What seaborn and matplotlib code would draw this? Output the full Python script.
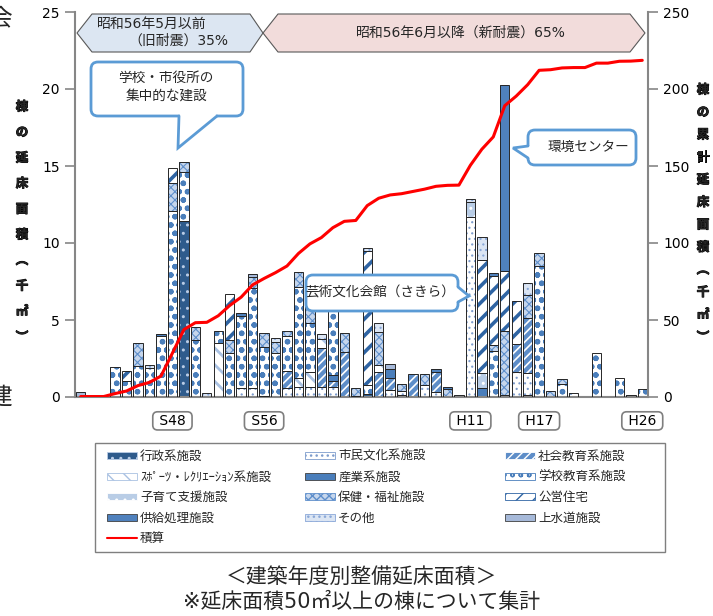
import matplotlib
matplotlib.use("Agg")
import numpy as np
import pandas as pd
import matplotlib.pyplot as plt
import matplotlib.transforms as mtransforms
import matplotlib.patheffects as pe
from matplotlib.patches import Patch, Polygon, FancyBboxPatch, Rectangle
from matplotlib.lines import Line2D
import seaborn as sns

sns.set_theme(style="white")
plt.rcParams['font.family'] = ['DejaVu Sans', 'Noto Sans CJK JP']
plt.rcParams['hatch.linewidth'] = 1.0

# ---- データ (千㎡) : 昭和40年度〜平成26年度 ----
years = ["S%d" % n for n in range(40, 64)] + ["H%d" % n for n in range(1, 27)]
marked = ["S48", "S56", "H11", "H17", "H26"]

gyosei = [0, 0, 0, 0, 0, 0, 0, 0, 0, 11.43,
          0, 0, 0, 0, 0, 0, 0.05, 0, 0, 0,
          0, 0, 0, 0, 0.06, 0.2, 0, 0, 0.1, 0,
          0, 0, 0, 0, 0, 0, 0, 0.13, 0, 0.13,
          0, 0, 0, 0, 0, 0, 0, 0, 0.1, 0]
shimin = [0, 0, 0, 0, 0, 0, 0, 0, 0, 0,
          0, 0, 0, 0, 0.56, 0.56, 0, 0, 0.6, 0.63,
          0.67, 0.63, 0.62, 0, 0, 0, 0, 0.45, 0.3, 0,
          0.78, 0.35, 0, 0, 11.67, 0, 0, 0, 1.6, 1.41,
          0, 0, 0, 0, 0, 0, 0, 0, 0, 0]
shakai = [0, 0, 0, 0, 0, 0, 0, 0, 0, 0,
          0, 0, 0, 0, 0, 0, 0, 0, 1.1, 0,
          0, 2.53, 0.4, 2.94, 0, 0, 1.64, 0.8, 0, 1.47,
          0, 1.3, 0, 0, 0, 0, 0, 0, 1.84, 3.62,
          0, 0, 0, 0, 0, 0, 0, 0, 0, 0]
sports = [0, 0, 0, 0, 0, 0, 0, 0, 0, 0,
          0, 0, 3.53, 0, 0, 0, 0, 0, 0, 0.58,
          0.97, 0.63, 0, 0, 0, 0, 0.44, 0, 0, 0,
          0, 0, 0, 0, 0, 0, 0, 0, 0, 0,
          0, 0, 0, 0, 0, 0, 0, 0, 0, 0]
sangyo = [0, 0, 0, 0, 0, 0, 0, 0, 0, 0,
          0, 0, 0, 0, 0, 0, 0, 0, 0, 0,
          0, 0, 0.4, 0, 0, 0, 0, 0.55, 0, 0,
          0, 0, 0, 0, 0, 0.56, 0, 0, 0, 0,
          0, 0, 0, 0, 0, 0, 0, 0, 0, 0]
gakko = [0, 0, 0, 1.93, 1.05, 2.0, 1.88, 3.96, 12.1, 3.16,
         3.7, 0, 0.73, 2.88, 4.72, 6.5, 3.2, 2.83, 2.25, 5.95,
         3.18, 0, 4.3, 0, 0, 0.58, 0, 0, 0, 0,
         0, 0, 0, 0, 0, 0, 3.0, 0, 0, 0,
         8.5, 0, 0.84, 0.24, 0, 2.88, 0, 1.21, 0, 0.5]
kosodate = [0, 0, 0, 0, 0, 0, 0, 0, 0, 0,
            0, 0, 0, 0, 0, 0, 0, 0, 0, 0,
            0, 0, 0, 0, 0, 0, 0, 0, 0, 0,
            0, 0, 0, 0, 1.0, 0.98, 0, 0, 0, 0,
            0, 0, 0, 0, 0, 0, 0, 0, 0, 0]
hoken = [0, 0, 0, 0, 0, 1.5, 0, 0, 1.8, 0.65,
         0.82, 0, 0, 0.82, 0, 0.76, 0.9, 0.75, 0.35, 0.98,
         1.4, 0, 0.7, 1.19, 0.5, 0, 2.16, 0, 0.42, 0,
         0.69, 0, 0.53, 0, 0, 0, 0.4, 4.17, 0, 1.46,
         0.83, 0.39, 0.31, 0, 0, 0, 0, 0, 0, 0]
koei = [0, 0, 0, 0, 0.64, 0, 0, 0, 1.0, 0,
        0, 0, 0, 2.97, 0, 0, 0, 0, 0, 0,
        0, 0, 0, 0, 0, 8.67, 0, 0, 0, 0,
        0, 0, 0, 0, 0, 7.36, 4.48, 3.9, 2.79, 0,
        0, 0, 0, 0, 0, 0, 0, 0, 0, 0]
kyokyu = [0, 0, 0, 0, 0, 0, 0, 0.13, 0, 0,
          0, 0, 0, 0, 0.15, 0, 0, 0, 0, 0,
          0, 0, 0, 0, 0, 0, 0, 0, 0, 0,
          0, 0.2, 0.1, 0, 0, 0, 0.15, 12.06, 0, 0,
          0, 0, 0, 0, 0, 0, 0, 0, 0, 0]
sonota = [0, 0, 0, 0, 0, 0, 0.2, 0, 0, 0,
          0, 0.24, 0, 0, 0, 0, 0, 0.22, 0, 0,
          0, 0.3, 0, 0, 0, 0.2, 0.54, 0, 0, 0,
          0, 0, 0, 0, 0.21, 1.51, 0, 0, 0, 0.8,
          0, 0, 0, 0, 0, 0, 0, 0, 0, 0]
josuido = [0.3, 0, 0, 0, 0, 0, 0, 0, 0, 0,
           0, 0, 0, 0, 0, 0.15, 0, 0, 0, 0,
           0, 0, 0, 0, 0, 0, 0, 0.34, 0, 0,
           0, 0, 0, 0.14, 0, 0, 0, 0, 0, 0,
           0, 0, 0, 0, 0, 0, 0, 0, 0, 0]

# 名前, データ, 塗り, ハッチ, ハッチ色, ハッチ線幅
cats = [
    ("行政系施設", gyosei, "#2e5b8c", "..", "#b9cce6", 1.0),
    ("市民文化系施設", shimin, "white", "...", "#7d9ccc", 0.8),
    ("社会教育系施設", shakai, "#5d8dc8", "////", "white", 1.2),
    ("ｽﾎﾟｰﾂ・ﾚｸﾘｴｰｼｮﾝ系施設", sports, "white", "\\\\", "#a9c1e2", 2.0),
    ("産業系施設", sangyo, "#4a7ebb", "", "#4a7ebb", 1.0),
    ("学校教育系施設", gakko, "white", "oo", "#4a7ebb", 1.6),
    ("子育て支援施設", kosodate, "#b9cde6", "..", "white", 1.0),
    ("保健・福祉施設", hoken, "#c6d6ec", "xxxx", "#5f8fcb", 0.8),
    ("公営住宅", koei, "white", "//", "#2f64a3", 2.6),
    ("供給処理施設", kyokyu, "#4f81bd", "", "#4f81bd", 1.0),
    ("その他", sonota, "#dbe5f3", "...", "#8aa8d8", 0.8),
    ("上水道施設", josuido, "#a6b9d9", "", "#a6b9d9", 1.0),
]

df = pd.DataFrame({c[0]: c[1] for c in cats}, index=years)
cumulative = df.sum(axis=1).cumsum()

W, H = 713, 616
fig = plt.figure(figsize=(W / 100, H / 100), dpi=100)
T = mtransforms.Affine2D().scale(1, -1).translate(0, H)  # 画像ピクセル座標 (y下向き)

ax = fig.add_axes([75 / W, 1 - 397 / H, 573 / W, 385 / H])
x = np.arange(len(years))
bottom = np.zeros(len(years))
for name, vals, fc, hatch, hc, hlw in cats:
    v = np.array(vals, dtype=float)
    m = v > 0
    with plt.rc_context({'hatch.linewidth': hlw}):
        bars = ax.bar(x[m], v[m], bottom=bottom[m], width=0.82, color=fc,
                      hatch=hatch or None, edgecolor=hc, linewidth=0, zorder=2)
    for b in bars:
        if hasattr(b, "set_hatch_linewidth"):
            b.set_hatch_linewidth(hlw)
    ax.bar(x[m], v[m], bottom=bottom[m], width=0.82, fill=False,
           edgecolor="#262626", linewidth=0.7, zorder=3)
    bottom += v

ax.set_xlim(-0.5, len(years) - 0.5)
ax.set_ylim(0, 25)
ax.set_yticks(range(0, 26, 5))
ax.set_xticks([])
for s in ["top", "right"]:
    ax.spines[s].set_visible(False)
for s in ["left", "bottom"]:
    ax.spines[s].set_color("#868686")
    ax.spines[s].set_linewidth(1.5)
ax.tick_params(axis="y", left=True, length=7, width=1.2, color="#868686",
               labelsize=10, pad=4, labelcolor="black")

ax2 = ax.twinx()
sns.lineplot(x=x, y=cumulative.values, ax=ax2, color="#ff0000", linewidth=2.2,
             zorder=4)
ax2.set_ylim(0, 250)
ax2.set_yticks(range(0, 251, 50))
ax2.set_xlim(-0.5, len(years) - 0.5)
ax2.set_xlabel("")
ax2.set_ylabel("")
for s in ["top", "left", "bottom"]:
    ax2.spines[s].set_visible(False)
ax2.spines["right"].set_color("#868686")
ax2.spines["right"].set_linewidth(1.5)
ax2.tick_params(axis="y", right=True, length=7, width=1.2, color="#868686",
                labelsize=10, pad=4, labelcolor="black")
ax2.grid(False)
ax.grid(False)

# 年度ラベル (枠付き)
for lab in marked:
    i = years.index(lab)
    ax.text(i, -0.062, " %s " % lab, transform=ax.get_xaxis_transform(),
            ha="center", va="center", fontsize=10, color="black", clip_on=False,
            bbox=dict(boxstyle="round,pad=0.15,rounding_size=0.35", fc="white",
                      ec="#7f7f7f", lw=1.2))

# 上部の帯
def banner(pts, fc):
    fig.add_artist(Polygon(pts, closed=True, transform=T, fc=fc, ec="#595959",
                           lw=0.8, zorder=8))

banner([(77, 33), (92, 14), (250, 14), (263, 33), (250, 52), (92, 52)], "#dce6f2")
banner([(263, 33), (278, 14), (630, 14), (645, 33), (630, 52), (278, 52)], "#f2dcdb")
fig.text(97, 24, "昭和56年5月以前", transform=T, ha="left", va="center", fontsize=10, zorder=9)
fig.text(128, 41, "（旧耐震）35%", transform=T, ha="left", va="center", fontsize=10, zorder=9)
fig.text(461, 33, "昭和56年6月以降（新耐震）65%", transform=T, ha="center", va="center",
         fontsize=10, zorder=9)

# 吹き出し
BLUE = "#5b9bd5"

def callout(x0, y0, x1, y1, tail, label, tx, ty):
    fig.add_artist(FancyBboxPatch((x0, y0), x1 - x0, y1 - y0,
                                  boxstyle="round,pad=0,rounding_size=7",
                                  transform=T, fc="white", ec=BLUE, lw=2, zorder=10))
    b1, tip, b2, in1, in2 = tail
    fig.add_artist(Polygon([in1, b1, tip, b2, in2], closed=True, transform=T,
                           fc="white", ec="none", zorder=11))
    fig.add_artist(Line2D([b1[0], tip[0], b2[0]], [b1[1], tip[1], b2[1]],
                          transform=T, color=BLUE, lw=2, zorder=12,
                          solid_joinstyle="miter"))
    fig.text(tx, ty, label, transform=T, ha="center", va="center",
             fontsize=9.8, zorder=13, linespacing=1.35)

callout(91, 62, 243, 116,
        [(179, 116), (178, 148), (217, 116), (181, 112), (214, 112)],
        "学校・市役所の\n集中的な建設", 166, 87)
callout(528, 130, 636, 165,
        [(528, 146), (513, 148), (528, 158), (532, 146), (532, 158)],
        "環境センター", 588, 147)
callout(306, 275, 458, 311,
        [(458, 287), (469, 296), (458, 302), (454, 287), (454, 302)],
        "芸術文化会館（さきら）", 380, 293)

# 軸タイトル (縦書き, 太字風)
bold = [pe.withStroke(linewidth=0.7, foreground="black")]
left_chars = ["棟", "の", "延", "床", "面", "積", "︵", "千", "㎡", "︶"]
for k, ch in enumerate(left_chars):
    fig.text(22, 107 + k * 25.6, ch, transform=T, ha="center", va="center",
             fontsize=9, fontweight="bold", path_effects=bold,
             family=["Noto Sans CJK JP", "DejaVu Sans"])
right_chars = ["棟", "の", "累", "計", "延", "床", "面", "積", "︵", "千", "㎡", "︶"]
for k, ch in enumerate(right_chars):
    fig.text(703, 90 + k * 22.5, ch, transform=T, ha="center", va="center",
             fontsize=9, fontweight="bold", path_effects=bold,
             family=["Noto Sans CJK JP", "DejaVu Sans"])

# 凡例
def handle(c):
    name, vals, fc, hatch, hc, hlw = c
    return Patch(facecolor=fc, edgecolor=hc if hatch else "#404040",
                 hatch=hatch or None, linewidth=0.6)

line_handle = Line2D([], [], color="#ff0000", lw=1.5)
cols = [
    ([handle(cats[0]), handle(cats[3]), handle(cats[6]), handle(cats[9]), line_handle],
     [cats[0][0], cats[3][0], cats[6][0], cats[9][0], "積算"], 107),
    ([handle(cats[1]), handle(cats[4]), handle(cats[7]), handle(cats[10])],
     [cats[1][0], cats[4][0], cats[7][0], cats[10][0]], 305),
    ([handle(cats[2]), handle(cats[5]), handle(cats[8]), handle(cats[11])],
     [cats[2][0], cats[5][0], cats[8][0], cats[11][0]], 505),
]
fig.add_artist(Rectangle((95, 443), 570, 109, transform=T, fc="white",
                         ec="#7f7f7f", lw=1.0, zorder=1))
for hs, ls, lx in cols:
    leg = fig.legend(hs, ls, loc="upper left", bbox_to_anchor=(lx, 450),
                     bbox_transform=T, frameon=False, fontsize=9, borderpad=0,
                     borderaxespad=0, handlelength=2.4, handleheight=0.5,
                     handletextpad=0.25, labelspacing=0.6)
    leg.set_zorder(5)

# 表題
fig.text(362, 577, "＜建築年度別整備延床面積＞", transform=T, ha="center",
         va="center", fontsize=15)
fig.text(362, 602, "※延床面積50㎡以上の棟について集計", transform=T, ha="center",
         va="center", fontsize=15)

# 左端の切れた文字 (元画像でも途中で切れている)
fig.text(0, 18, "会", transform=T, ha="center", va="center", fontsize=17)
fig.text(0, 397, "建", transform=T, ha="center", va="center", fontsize=17)

fig.savefig("out.png", dpi=100)
